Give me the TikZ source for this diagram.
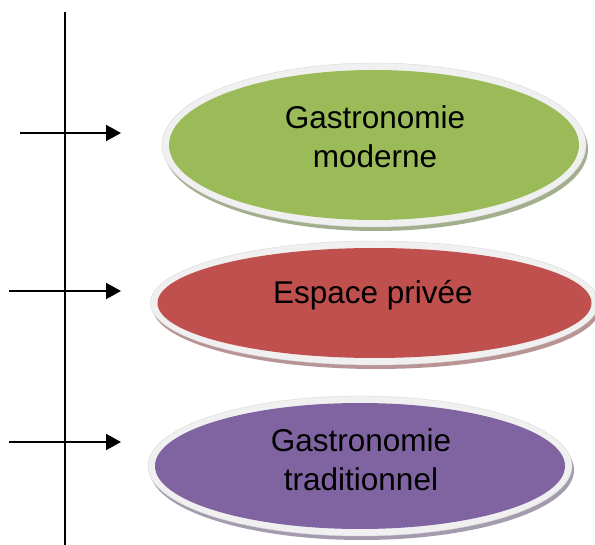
\documentclass[tikz,border=0pt]{standalone}
\usepackage{fontspec}
\setmainfont{Liberation Sans}
\usetikzlibrary{shapes.geometric,arrows.meta}
\definecolor{cgreen}{HTML}{9BBB59}
\definecolor{cred}{HTML}{C0504D}
\definecolor{cpurple}{HTML}{8064A2}
\definecolor{rim}{HTML}{F0F0F0}
\definecolor{sgreen}{HTML}{A3AE8E}
\definecolor{sred}{HTML}{B89494}
\definecolor{spurple}{HTML}{A49BAE}
\tikzset{
  axis/.style={line width=2pt},
  arr/.style={line width=2pt,-{Triangle[length=15pt,width=16pt]}},
  blob/.style={ellipse,inner sep=0pt,draw=none},
  txt/.style={align=center,font=\fontsize{31.5}{39}\selectfont,inner sep=0pt}
}
\newcommand{\rimellipse}[5]{%
  % #1 x, #2 y, #3 rx, #4 ry, #5 shadow colour
  \fill[#5] (#1+2,#2+4) ellipse [x radius=#3pt+7pt, y radius=#4pt+7pt];
  \fill[rim,draw=gray!30,line width=0.4pt] (#1,#2) ellipse [x radius=#3pt+7pt, y radius=#4pt+7pt];
}
\begin{document}
\begin{tikzpicture}[x=1pt,y=-1pt]
\useasboundingbox (0,0) rectangle (595,545);
\fill[white] (0,0) rectangle (595,545);

% left axis and arrows
\coordinate (top) at (65,12);
\coordinate (bot) at (65,545);
\draw[axis] (top) -- (bot);

\coordinate (s1) at (20,133);
\coordinate (e1) at (121,133);
\coordinate (s2) at (9,291);
\coordinate (e2) at (121,291);
\coordinate (s3) at (9,442);
\coordinate (e3) at (121,442);
\draw[arr] (s1) -- (e1);
\draw[arr] (s2) -- (e2);
\draw[arr] (s3) -- (e3);

% green ellipse
\rimellipse{374}{145}{205}{75}{sgreen}
\node[blob,fill=cgreen,minimum width=410pt,minimum height=150pt] (g) at (374,145) {};
\node[txt] (gt) at (375,137) {Gastronomie\\moderne};

% red ellipse
\rimellipse{374.5}{303}{217}{55}{sred}
\node[blob,fill=cred,minimum width=434pt,minimum height=110pt] (r) at (374.5,303) {};
\node[txt] (rt) at (373,295) {Espace privée};

% purple ellipse
\rimellipse{360}{466}{205}{63}{spurple}
\node[blob,fill=cpurple,minimum width=410pt,minimum height=126pt] (p) at (360,466) {};
\node[txt] (pt) at (361,460) {Gastronomie\\traditionnel};
\end{tikzpicture}
\end{document}
